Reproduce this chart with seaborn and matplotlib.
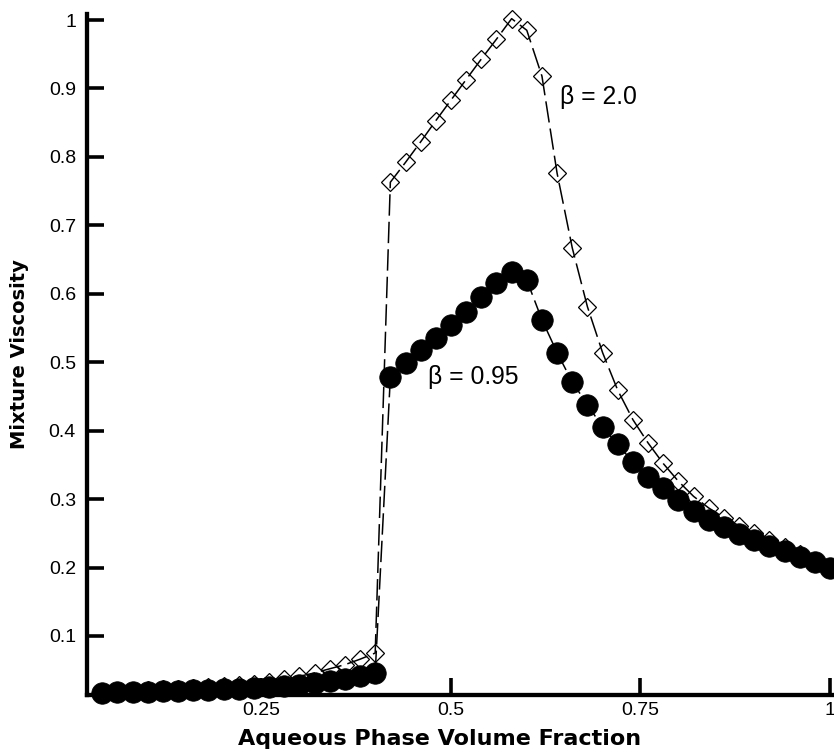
import matplotlib
matplotlib.use("Agg")
import matplotlib.pyplot as plt
import seaborn as sns
import pandas as pd

# Aqueous phase volume fraction sampled every 0.02
phase_fraction = [
    0.04, 0.06, 0.08, 0.10, 0.12, 0.14, 0.16, 0.18, 0.20, 0.22,
    0.24, 0.26, 0.28, 0.30, 0.32, 0.34, 0.36, 0.38, 0.40, 0.42,
    0.44, 0.46, 0.48, 0.50, 0.52, 0.54, 0.56, 0.58, 0.60, 0.62,
    0.64, 0.66, 0.68, 0.70, 0.72, 0.74, 0.76, 0.78, 0.80, 0.82,
    0.84, 0.86, 0.88, 0.90, 0.92, 0.94, 0.96, 0.98, 1.00,
]

# Mixture viscosity for beta = 2.0 (open diamonds)
visc_beta_2 = [
    0.018, 0.019, 0.020, 0.021, 0.022, 0.023, 0.024, 0.025, 0.027, 0.028,
    0.030, 0.033, 0.037, 0.041, 0.046, 0.052, 0.058, 0.066, 0.075, 0.763,
    0.792, 0.822, 0.853, 0.883, 0.913, 0.943, 0.972, 1.002, 0.985, 0.918,
    0.776, 0.667, 0.581, 0.514, 0.459, 0.416, 0.382, 0.352, 0.326, 0.304,
    0.287, 0.273, 0.261, 0.250, 0.240, 0.230, 0.220, 0.210, 0.201,
]

# Mixture viscosity for beta = 0.95 (filled circles)
visc_beta_095 = [
    0.017, 0.0175, 0.018, 0.0185, 0.019, 0.020, 0.0205, 0.021, 0.022, 0.023,
    0.024, 0.025, 0.027, 0.029, 0.031, 0.034, 0.037, 0.041, 0.046, 0.478,
    0.499, 0.518, 0.535, 0.554, 0.573, 0.595, 0.616, 0.632, 0.620, 0.562,
    0.514, 0.471, 0.438, 0.405, 0.380, 0.354, 0.332, 0.316, 0.299, 0.282,
    0.270, 0.259, 0.249, 0.240, 0.232, 0.224, 0.216, 0.208, 0.200,
]

x_ticks = [0.25, 0.5, 0.75, 1.0]
x_tick_labels = ["0.25", "0.5", "0.75", "1"]
y_ticks = [0.1, 0.2, 0.3, 0.4, 0.5, 0.6, 0.7, 0.8, 0.9, 1.0]
y_tick_labels = ["0.1", "0.2", "0.3", "0.4", "0.5", "0.6", "0.7", "0.8", "0.9", "1"]

df = pd.DataFrame({
    "phi": phase_fraction,
    "beta_2": visc_beta_2,
    "beta_095": visc_beta_095,
})

sns.set_theme(style="white")
plt.rcParams["font.family"] = ["Liberation Sans", "DejaVu Sans"]

fig = plt.figure(figsize=(8.34, 7.53), dpi=100)
ax = fig.add_axes([87 / 834, 58 / 753, 747 / 834, 681 / 753])

dash = (0, (14, 4))

sns.lineplot(
    data=df, x="phi", y="beta_095", ax=ax, color="black",
    linewidth=1.1, linestyle=dash, marker="o", markersize=15.5,
    markerfacecolor="black", markeredgecolor="black", markeredgewidth=0.5,
    clip_on=False, zorder=3,
)
sns.lineplot(
    data=df, x="phi", y="beta_2", ax=ax, color="black",
    linewidth=1.1, linestyle=dash, marker="D", markersize=9.5,
    markerfacecolor="none", markeredgecolor="black", markeredgewidth=0.9,
    clip_on=False, zorder=4,
)

ax.set_xlim(0.0198, 1.0053)
ax.set_ylim(0.0137, 1.0088)

ax.set_xticks(x_ticks)
ax.set_xticklabels(x_tick_labels)
ax.set_yticks(y_ticks)
ax.set_yticklabels(y_tick_labels)

for side in ("top", "right"):
    ax.spines[side].set_visible(False)
for side in ("left", "bottom"):
    ax.spines[side].set_linewidth(3.1)
    ax.spines[side].set_color("black")

ax.tick_params(axis="both", which="major", direction="in", length=12.5,
               width=2.6, color="black", labelsize=14, labelcolor="black",
               bottom=True, left=True, top=False, right=False)
ax.tick_params(axis="y", pad=8)
ax.tick_params(axis="x", pad=5)

ax.set_xlabel("Aqueous Phase Volume Fraction", fontsize=16,
              fontweight="bold", family="DejaVu Sans", color="black")
ax.set_ylabel("Mixture Viscosity", fontsize=14,
              fontweight="bold", family="DejaVu Sans", color="black")
ax.xaxis.label.set_verticalalignment("center")
ax.yaxis.label.set_verticalalignment("center")
ax.xaxis.set_label_coords(0.4726, -0.0646)
ax.yaxis.set_label_coords(-0.0897, 0.5)

ax.text(0.644, 0.888, "β = 2.0", fontsize=17.8, ha="left", va="center",
        color="black")
ax.text(0.470, 0.478, "β = 0.95", fontsize=17.8, ha="left", va="center",
        color="black")

ax.grid(False)
fig.savefig("out.png", dpi=100, facecolor="white")
